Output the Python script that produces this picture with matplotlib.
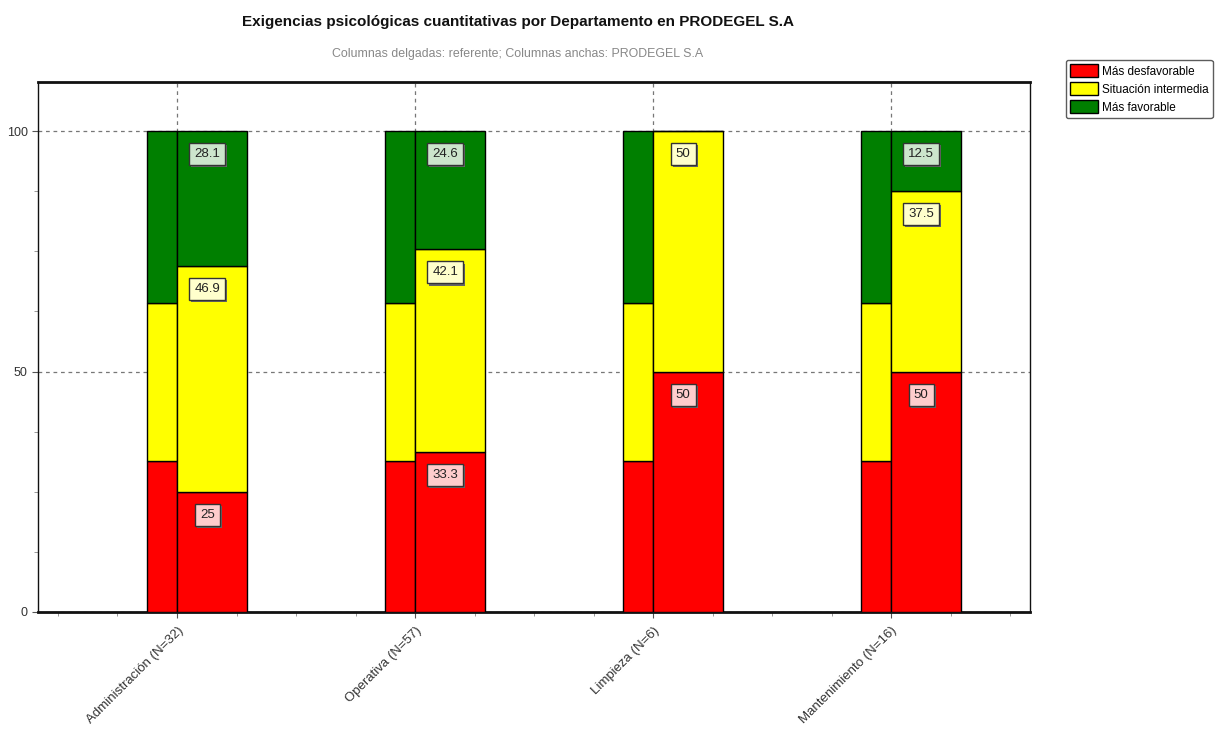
import matplotlib.pyplot as plt
import matplotlib.transforms as mtransforms
from matplotlib.ticker import MultipleLocator
from matplotlib.patches import Patch

plt.rcParams['font.family'] = ['Liberation Sans', 'DejaVu Sans']

departamentos = ["Administración (N=32)", "Operativa (N=57)", "Limpieza (N=6)", "Mantenimiento (N=16)"]
desfavorable = [25, 33.3, 50, 50]
intermedia = [46.9, 42.1, 50, 37.5]
favorable = [28.1, 24.6, 0, 12.5]
# referente (columnas delgadas)
ref_desfavorable = [31.5, 31.5, 31.5, 31.5]
ref_intermedia = [32.8, 32.8, 32.8, 32.8]
ref_favorable = [35.7, 35.7, 35.7, 35.7]

colores = ["#ff0000", "#ffff00", "#007f00"]
colores_caja = ["#ffcccc", "#ffffcc", "#cce5cc"]
nombres = ["Más desfavorable", "Situación intermedia", "Más favorable"]


def main():
    fig = plt.figure(figsize=(12.22, 7.31), dpi=100)
    ax = fig.add_axes([0.0311, 0.1628, 0.8118, 0.725])

    x = list(range(len(departamentos)))
    thin_w = 0.126
    wide_w = 0.294

    # columnas delgadas: referente
    bottom = [0] * len(x)
    for vals, c in zip([ref_desfavorable, ref_intermedia, ref_favorable], colores):
        ax.bar(x, vals, width=-thin_w, align='edge', bottom=bottom, color=c,
               edgecolor='black', linewidth=1, zorder=3)
        bottom = [b + v for b, v in zip(bottom, vals)]

    # columnas anchas: PRODEGEL
    bottom = [0] * len(x)
    for vals, c, cb in zip([desfavorable, intermedia, favorable], colores, colores_caja):
        ax.bar(x, vals, width=wide_w, align='edge', bottom=bottom, color=c,
               edgecolor='black', linewidth=1, zorder=3)
        for xi, b, v in zip(x, bottom, vals):
            if v <= 0:
                continue
            lab = f"{v:g}"
            ty = b + v - 4.8
            tx = xi + wide_w / 2 - 0.02
            shadow = mtransforms.offset_copy(ax.transData, fig=fig, x=1.5, y=-1.5, units='points')
            ax.text(tx, ty, lab, transform=shadow, ha='center', va='center', fontsize=9.5,
                    color=(0, 0, 0, 0), zorder=4,
                    bbox=dict(boxstyle='square,pad=0.38', facecolor='#666666', edgecolor='none'))
            ax.text(tx, ty, lab, ha='center', va='center', fontsize=9.5, color='#222222', zorder=5,
                    bbox=dict(boxstyle='square,pad=0.38', facecolor=cb, edgecolor='#333333', linewidth=1))
        bottom = [bb + v for bb, v in zip(bottom, vals)]

    ax.set_xlim(-0.584, 3.584)
    ax.set_ylim(0, 110.2)
    ax.set_xticks(x)
    ax.set_xticklabels(departamentos, rotation=45, ha='right', rotation_mode='anchor',
                       fontsize=9.5, color='#333333')
    ax.xaxis.set_minor_locator(MultipleLocator(0.25))
    ax.set_yticks([0, 50, 100])
    ax.yaxis.set_minor_locator(MultipleLocator(12.5))
    ax.tick_params(axis='y', labelsize=9, labelcolor='#333333', length=4, color='#555555')
    ax.tick_params(axis='x', length=4, color='#555555', pad=5)
    ax.tick_params(which='minor', length=3, color='#888888')

    ax.grid(True, linestyle=(0, (3, 3)), color='#777777', linewidth=0.9, zorder=0)
    ax.set_axisbelow(True)

    ax.spines['top'].set_linewidth(2)
    ax.spines['bottom'].set_linewidth(2)
    ax.spines['left'].set_linewidth(1)
    ax.spines['right'].set_linewidth(1)
    for s in ax.spines.values():
        s.set_color('#111111')

    fig.text(518 / 1222, 1 - 22 / 731, "Exigencias psicológicas cuantitativas por Departamento en PRODEGEL S.A",
             ha='center', va='center', fontsize=11, fontweight='bold', color='#111111')
    fig.text(518 / 1222, 1 - 54 / 731, "Columnas delgadas: referente; Columnas anchas: PRODEGEL S.A",
             ha='center', va='center', fontsize=8.9, color='#888888')

    handles = [Patch(facecolor=c, edgecolor='black', label=n) for c, n in zip(colores, nombres)]
    leg = fig.legend(handles=handles, loc='upper left', bbox_to_anchor=(1066 / 1222, 1 - 60 / 731),
                     fontsize=8.5, frameon=True, fancybox=True, edgecolor='#333333',
                     handlelength=2.4, handleheight=1.3, handletextpad=0.3,
                     labelspacing=0.4, borderpad=0.35, borderaxespad=0)
    leg.get_frame().set_linewidth(1)

    fig.savefig("out.png", dpi=100)


if __name__ == '__main__':
    main()
